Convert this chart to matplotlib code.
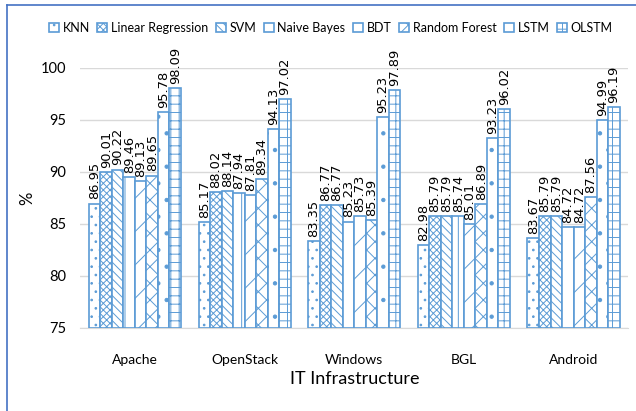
import numpy as np
import matplotlib.pyplot as plt
from matplotlib.lines import Line2D

# accuracy (%) of each model on every log dataset
infra = ["Apache", "OpenStack", "Windows", "BGL", "Android"]
models = ["KNN", "Linear Regression", "SVM", "Naive Bayes", "BDT",
          "Random Forest", "LSTM", "OLSTM"]
knn = [86.95, 85.17, 83.35, 82.98, 83.67]
linreg = [90.01, 88.02, 86.77, 85.79, 85.79]
svm = [90.22, 88.14, 86.77, 85.79, 85.79]
naive_bayes = [89.46, 87.94, 85.23, 85.74, 84.72]
bdt = [89.13, 87.81, 85.73, 85.01, 84.72]
random_forest = [89.65, 89.34, 85.39, 86.89, 87.56]
lstm = [95.78, 94.13, 95.23, 93.23, 94.99]
olstm = [98.09, 97.02, 97.89, 96.02, 96.19]
series = [knn, linreg, svm, naive_bayes, bdt, random_forest, lstm, olstm]

hatches = ["..", "xxxxx", "\\\\\\\\", "|", "/", "xx", ".", "++"]
blue = "#5B9BD5"
narrow = ["Lato", "DejaVu Sans"]

plt.rcParams["hatch.linewidth"] = 0.7
fig = plt.figure(figsize=(6.36, 4.11), dpi=100)
ax = fig.add_axes([0.126, 0.202, 0.862, 0.633])

x = np.arange(len(infra))
w = 0.105
for i, vals in enumerate(series):
    pos = x + (i - 3.5) * w
    ax.bar(pos, np.array(vals) - 75, w, bottom=75, facecolor="white",
           edgecolor=blue, hatch=hatches[i], linewidth=1.2, label=models[i],
           zorder=3)
    for p, v in zip(pos, vals):
        ax.text(p, v + 0.4, f"{v:.2f}", rotation=90, ha="center", va="bottom",
                fontsize=9.4, clip_on=False, zorder=4)

ax.set_ylim(75, 100)
ax.set_xlim(-0.5, 4.5)
ax.set_yticks([75, 80, 85, 90, 95, 100])
ax.yaxis.grid(True, color="#D9D9D9", linewidth=1, zorder=0)
ax.tick_params(length=0, labelsize=10.5)
ax.tick_params(axis="y", pad=10)
ax.tick_params(axis="x", pad=19)
for lab in ax.get_yticklabels():
    lab.set_family(narrow)
ax.set_xticks(x)
ax.set_xticklabels(infra, family=narrow, fontsize=10)
for s in ["top", "right", "left"]:
    ax.spines[s].set_visible(False)
ax.spines["bottom"].set_color("#D9D9D9")

ax.set_xlabel("IT Infrastructure", fontsize=13, family=narrow, labelpad=3)
ax.set_ylabel("%", fontsize=12, family=narrow, labelpad=4)

fig.legend(loc="center", bbox_to_anchor=(0.52, 0.932), ncol=8,
           frameon=False, prop={"family": narrow, "size": 9},
           handlelength=0.8, handleheight=0.8, handletextpad=0.3,
           columnspacing=0.6)

# outer frame, left and top edges
fig.add_artist(Line2D([0.011, 0.011], [0, 0.988], color="#4472C4", lw=1.2,
                      transform=fig.transFigure))
fig.add_artist(Line2D([0.011, 1], [0.988, 0.988], color="#4472C4", lw=1.2,
                      transform=fig.transFigure))

fig.savefig("out.png", dpi=100)
